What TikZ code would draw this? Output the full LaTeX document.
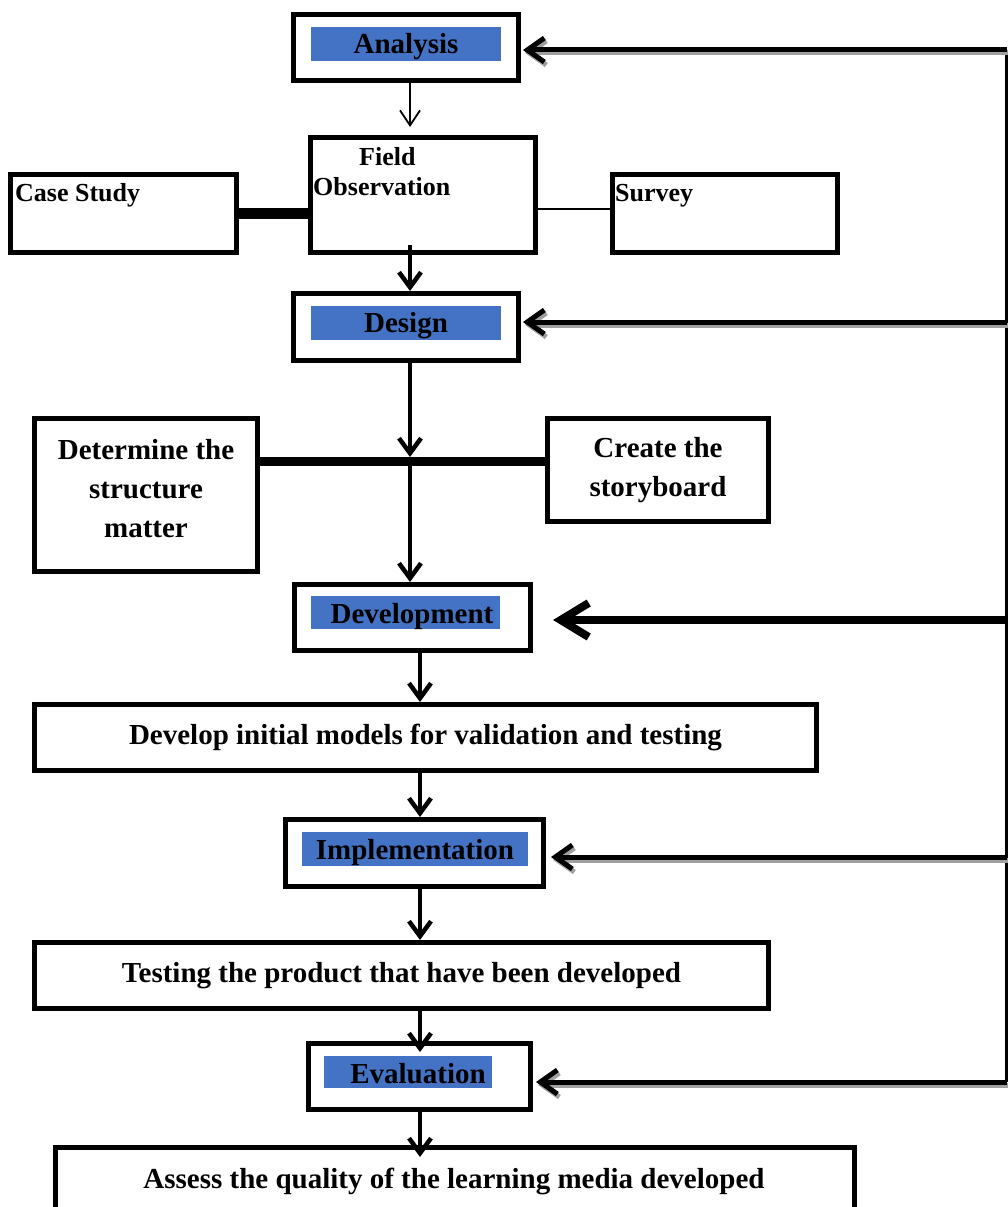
\documentclass[tikz,border=0pt]{standalone}
\usepackage{fontspec}
\setmainfont{Liberation Serif}
\usepackage{xcolor}
\usetikzlibrary{positioning,arrows.meta}
\definecolor{phaseblue}{HTML}{4472C4}
\definecolor{shadowgray}{HTML}{A0A0A0}
\tikzset{
  box/.style={draw,line width=5pt,inner sep=0pt},
  bluebg/.style={fill=phaseblue,inner sep=0pt},
  lbl/.style={font=\bfseries\fontsize{29}{39}\selectfont,inner sep=0pt,align=center},
  small/.style={font=\bfseries\fontsize{26}{30}\selectfont,inner sep=0pt,align=left},
  arrow/.style={line width=4.5pt,-{Straight Barb[length=15pt,width=22pt]}},
  thinarrow/.style={line width=1.8pt,-{Straight Barb[length=15pt,width=20pt]}},
  fbarrow/.style={line width=5pt,-{Straight Barb[length=17pt,width=24pt]}},
  fbshadow/.style={fbarrow,draw=shadowgray},
  devarrow/.style={line width=8pt,-{Straight Barb[length=28pt,width=34pt]}},
  bar/.style={line width=#1}
}

\begin{document}
\begin{tikzpicture}[x=1pt,y=-1pt]
\useasboundingbox (0,0) rectangle (1008,1207);

\node[box,minimum width=225pt,minimum height=66pt] (Analysis) at (406,47.5) {};
\node[bluebg,minimum width=190pt,minimum height=34pt] (Analysisbg) at (406,44) {};
\node[lbl] (Analysislbl) at (406,47) {Analysis};

\node[box,minimum width=225pt,minimum height=115pt] (Field) at (423,195) {};
\node[small,anchor=north west] (Fieldlbl) at (313,147.5) {\hspace*{46pt}Field\\Observation};
\node[box,minimum width=226pt,minimum height=78pt] (CaseStudy) at (123.5,213.5) {};
\node[small,anchor=base west] (CaseStudylbl) at (15,201.5) {Case Study};
\node[box,minimum width=225pt,minimum height=78pt] (Survey) at (725,213.5) {};
\node[small,anchor=base west] (Surveylbl) at (615,201.5) {Survey};

\node[box,minimum width=225pt,minimum height=67pt] (Design) at (406,327) {};
\node[bluebg,minimum width=190pt,minimum height=34pt] (Designbg) at (406,323) {};
\node[lbl] (Designlbl) at (406,326) {Design};

\node[box,minimum width=223pt,minimum height=153pt] (Determine) at (146,495) {};
\node[lbl] (Determinelbl) at (146,489) {Determine the\\structure\\matter};
\node[box,lbl,minimum width=221pt,minimum height=103pt] (Create) at (658,470) {Create the\\storyboard};

\node[box,minimum width=236pt,minimum height=66pt] (Development) at (412.5,617.5) {};
\node[bluebg,minimum width=189pt,minimum height=33pt] (Developmentbg) at (405.5,612.5) {};
\node[lbl] (Developmentlbl) at (412,617) {Development};

\node[box,lbl,minimum width=782pt,minimum height=66pt] (Develop) at (425.5,737.5) {Develop initial models for validation and testing};

\node[box,minimum width=258pt,minimum height=67pt] (Implementation) at (414.5,853) {};
\node[bluebg,minimum width=226pt,minimum height=34pt] (Implementationbg) at (415,849) {};
\node[lbl] (Implementationlbl) at (415,853) {Implementation};

\node[box,lbl,minimum width=734pt,minimum height=66pt] (Testing) at (401.5,975.5) {Testing the product that have been developed};

\node[box,minimum width=222pt,minimum height=66pt] (Evaluation) at (419.5,1076.5) {};
\node[bluebg,minimum width=168pt,minimum height=32pt] (Evaluationbg) at (408,1072) {};
\node[lbl] (Evaluationlbl) at (418,1074) {Evaluation};

\node[box,minimum width=799pt,minimum height=112pt] (Assess) at (455,1203.5) {};
\node[lbl] (Assesslbl) at (454,1181) {Assess the quality of the learning media developed};

\coordinate (hub) at (410,461);
\coordinate (spine) at (420,0);
\coordinate (fbtop) at (1007,50);
\coordinate (fbbot) at (1007,1082);

\draw[thinarrow,shorten >=8pt] (Analysis.south -| hub) -- (Field.north -| hub);
\draw[bar=11pt] (CaseStudy.east) -- (Field.west |- CaseStudy.east);
\coordinate (surveyin) at ([yshift=4.5pt]Survey.west);
\draw[bar=1.8pt] (Field.east |- surveyin) -- (surveyin);
\draw[arrow] ([yshift=10pt]Field.south -| hub) -- (Design.north -| hub);
\draw[bar=9pt] (Determine.east |- hub) -- (Create.west |- hub);
\draw[arrow,shorten >=4pt] (Design.south -| hub) -- (hub);
\draw[arrow] (hub) -- (Development.north -| hub);

\draw[arrow] (Development.south -| spine) -- (Develop.north -| spine);
\draw[arrow] (Develop.south -| spine) -- (Implementation.north -| spine);
\draw[arrow] (Implementation.south -| spine) -- (Testing.north -| spine);
\draw[arrow,shorten >=-11pt] (Testing.south -| spine) -- (Evaluation.north -| spine);
\draw[arrow,shorten >=-12pt] (Evaluation.south -| spine) -- (Assess.north -| spine);

\draw[line width=4.5pt] (fbtop) -- (fbbot);
\foreach \n/\dx/\dy in {Analysis/2/2.5,Design/2/-5,Implementation/5/4,Evaluation/3/5.5}{
  \coordinate (fbtip) at ([shift={(\dx,\dy)}]\n.east);
  \coordinate (fbstart) at (fbtop |- fbtip);
  \draw[fbshadow] ([shift={(2,3)}]fbstart) -- ([shift={(2,3)}]fbtip);
  \draw[fbarrow] (fbstart) -- (fbtip);
}
\coordinate (devtip) at ([shift={(20,2.5)}]Development.east);
\draw[devarrow] (fbtop |- devtip) -- (devtip);
\end{tikzpicture}
\end{document}
